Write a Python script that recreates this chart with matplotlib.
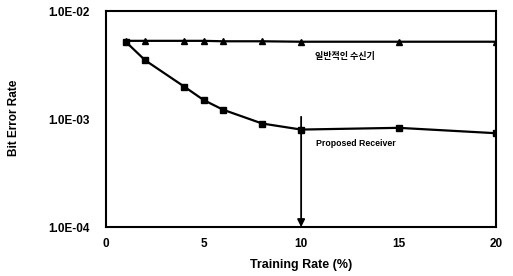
import matplotlib
matplotlib.use("Agg")
import matplotlib.pyplot as plt

plt.rcParams['font.family'] = ['Liberation Sans', 'Noto Sans CJK KR', 'DejaVu Sans']

# Training rate (%) and bit error rate values
conv_x = [1, 2, 4, 5, 6, 8, 10, 15, 20]
conv_ber = [5.3e-3, 5.3e-3, 5.3e-3, 5.3e-3, 5.25e-3, 5.25e-3, 5.2e-3, 5.2e-3, 5.2e-3]
prop_x = [1, 2, 4, 5, 6, 8, 10, 15, 20]
prop_ber = [5.2e-3, 3.5e-3, 2.0e-3, 1.5e-3, 1.22e-3, 9.1e-4, 8.0e-4, 8.3e-4, 7.4e-4]
xticks = [0, 5, 10, 15, 20]
yticks = [1e-4, 1e-3, 1e-2]
ytick_labels = ['1.0E-04', '1.0E-03', '1.0E-02']


def plot(out_file):
    fig = plt.figure(figsize=(5.13, 2.76), dpi=100)
    ax = fig.add_axes([0.207, 0.177, 0.760, 0.783])

    ax.plot(conv_x, conv_ber, color='black', lw=1.6, marker='^', ms=4.5)
    ax.plot(prop_x, prop_ber, color='black', lw=1.6, marker='s', ms=4)

    # arrow marking the 10 % point
    ax.annotate('', xy=(10, 1e-4), xytext=(10, 1.05e-3),
                arrowprops=dict(arrowstyle='-|>', color='black', lw=1.3,
                                mutation_scale=11, shrinkA=0, shrinkB=0))

    ax.text(12.25, 3.8e-3, '일반적인 수신기', fontsize=6.5, fontweight='bold',
            ha='center', va='center', family=['Noto Sans CJK KR', 'DejaVu Sans'])
    ax.text(12.8, 6.0e-4, 'Proposed Receiver', fontsize=6.3, fontweight='bold',
            ha='center', va='center')

    ax.set_yscale('log')
    ax.set_xlim(0, 20)
    ax.set_ylim(1e-4, 1e-2)
    ax.set_xticks(xticks)
    ax.set_xticklabels([str(t) for t in xticks], fontsize=8.5, fontweight='bold')
    ax.set_yticks(yticks)
    ax.set_yticklabels(ytick_labels, fontsize=8.5, fontweight='bold')
    ax.minorticks_off()
    ax.tick_params(axis='x', length=0, pad=8)
    ax.tick_params(axis='y', length=0, pad=12)
    for s in ax.spines.values():
        s.set_linewidth(1.5)

    ax.set_xlabel('Training Rate (%)', fontsize=9, fontweight='bold', labelpad=6)
    fig.text(0.028, 0.572, 'Bit Error Rate', rotation=90, fontsize=8.5,
             fontweight='bold', ha='center', va='center')

    fig.savefig(out_file, dpi=100)


plot('out.png')
